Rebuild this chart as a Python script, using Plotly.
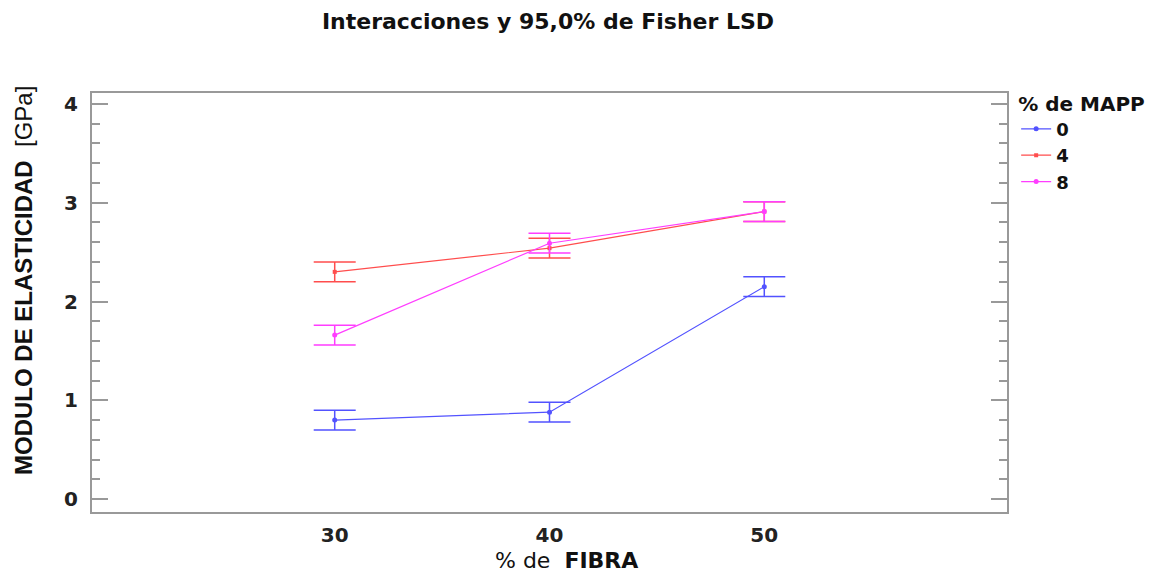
import plotly.graph_objects as go

# % de FIBRA levels
fibra = [30, 40, 50]

# Mean modulus (GPa) per % de MAPP level
mapp_levels = ["0", "4", "8"]
mapp0 = [0.80, 0.88, 2.15]
mapp4 = [2.30, 2.54, 2.91]
mapp8 = [1.66, 2.59, 2.91]

# Fisher LSD half-intervals (95,0%)
lsd0 = [0.10, 0.10, 0.10]
lsd4 = [0.10, 0.10, 0.10]
lsd8 = [0.10, 0.10, 0.10]

colors = ["#5252ff", "#ff4d4d", "#ff3dff"]
symbols = ["circle", "square", "circle"]
series = [mapp0, mapp4, mapp8]
lsds = [lsd0, lsd4, lsd8]

WIDE = "DejaVu Sans, Verdana, sans-serif"
NARROW = "Liberation Sans, Arial, sans-serif"

fig = go.Figure()
for name, ys, err, col, sym in zip(mapp_levels, series, lsds, colors, symbols):
    fig.add_trace(go.Scatter(
        x=fibra, y=ys, name=f"<b>{name}</b>", mode="lines+markers",
        line=dict(color=col, width=1.2),
        marker=dict(color=col, size=5 if sym == "circle" else 4, symbol=sym),
        error_y=dict(type="data", array=err, visible=True,
                     color=col, thickness=1.5, width=21),
    ))

fig.update_layout(
    width=1173, height=575,
    margin=dict(l=92, r=166, t=93, b=63),
    paper_bgcolor="white", plot_bgcolor="white",
    font=dict(family=WIDE, color="#222"),
    title=dict(text="<b>Interacciones y 95,0% de Fisher LSD</b>",
               x=548 / 1173, xanchor="center", y=1 - 21 / 575, yanchor="middle",
               font=dict(size=22, color="#111", family=WIDE)),
    legend=dict(
        title=dict(text="<b>% de MAPP</b>", font=dict(size=20, color="#111")),
        x=1.01, xanchor="left", y=1.02, yanchor="top",
        font=dict(size=18, color="#111"),
        bgcolor="rgba(0,0,0,0)", tracegroupgap=0,
    ),
    showlegend=True,
)

# axis titles, placed as in the original layout
fig.add_annotation(
    text="% de  <b>FIBRA</b>", xref="paper", yref="paper",
    x=(566 - 92) / (1007 - 92), y=-(560 - 512) / (512 - 93),
    xanchor="center", yanchor="middle", showarrow=False,
    font=dict(size=22, color="#111", family=WIDE),
)
fig.add_annotation(
    text="<b>MODULO DE ELASTICIDAD</b>  [GPa]", xref="paper", yref="paper",
    x=-(92 - 23) / (1007 - 92), y=(512 - 281) / (512 - 93),
    xanchor="center", yanchor="middle", textangle=-90, showarrow=False,
    font=dict(size=24, color="#111", family=NARROW),
)

fig.update_xaxes(
    range=[18.7, 61.3],
    tickvals=fibra, ticktext=[f"<b>{v}</b>" for v in fibra],
    tickfont=dict(size=20, color="#222"),
    ticks="", showgrid=False, zeroline=False,
    showline=True, linecolor="#999", linewidth=2, mirror=True,
    ticklabelstandoff=4,
)

fig.update_yaxes(
    range=[-0.13, 4.11],
    tickvals=[0, 1, 2, 3, 4], ticktext=[f"<b>{v}</b>" for v in range(5)],
    tickfont=dict(size=20, color="#222"),
    ticks="inside", ticklen=16, tickwidth=2, tickcolor="#999",
    minor=dict(dtick=0.2, tick0=0, ticks="inside", ticklen=8, tickwidth=2, tickcolor="#999"),
    showgrid=False, zeroline=False,
    showline=True, linecolor="#999", linewidth=2, mirror="allticks",
    ticklabelstandoff=8,
)

fig.write_html("out.html")
